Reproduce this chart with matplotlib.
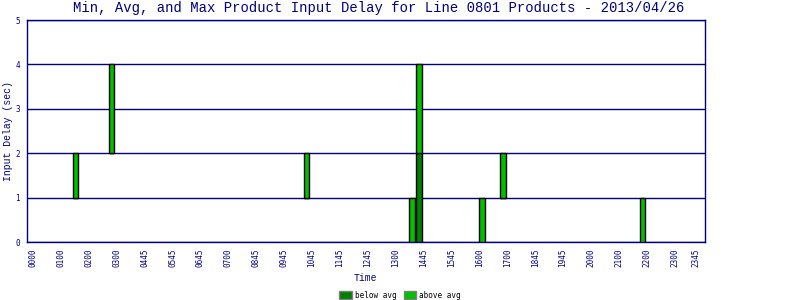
import matplotlib
matplotlib.use("Agg")
import matplotlib.pyplot as plt
from matplotlib.patches import Patch

title = "Min, Avg, and Max Product Input Delay for Line 0801 Products - 2013/04/26"
tick_pos = [0, 1, 2, 3, 4, 5, 6, 7, 8, 9, 10, 11, 12, 13, 14, 15, 16, 17, 18, 19, 20, 21, 22, 23, 23.75]
tick_labels = ["0000", "0100", "0200", "0300", "0445", "0545", "0645", "0700", "0845", "0945",
               "1045", "1145", "1245", "1300", "1445", "1545", "1600", "1700", "1845", "1945",
               "2000", "2100", "2200", "2300", "2345"]

times = [1.53, 2.80, 9.81, 13.58, 13.84, 16.09, 16.85, 21.86]
mins = [1, 2, 1, 0, 0, 0, 1, 0]
avgs = [1, 2, 1, 0, 2, 0, 1, 0]
maxs = [2, 4, 2, 1, 4, 1, 2, 1]

navy = "#000080"
dark_green = "#008000"
light_green = "#00C000"
mono = "DejaVu Sans Mono"
mono_title = "Liberation Mono"

fig = plt.figure(figsize=(8, 3), dpi=100)
ax = fig.add_axes([27/800, 58/300, 678/800, 222/300])

below = [a - m for a, m in zip(avgs, mins)]
above = [x - a for x, a in zip(maxs, avgs)]
w = 0.19
ax.bar(times, below, bottom=mins, width=w, color=dark_green, edgecolor="black", linewidth=1, zorder=3)
ax.bar(times, above, bottom=avgs, width=w, color=light_green, edgecolor="black", linewidth=1, zorder=3)

ax.set_xlim(-0.22, 24.09)
ax.set_ylim(0, 5)
ax.set_yticks([0, 1, 2, 3, 4, 5])
ax.set_yticklabels(["0", "1", "2", "3", "4", "5"], fontsize=5.5, family=mono, color=navy)
ax.set_xticks(tick_pos)
ax.set_xticklabels(tick_labels, rotation=90, fontsize=5.5, family=mono, color=navy)
ax.tick_params(length=0, pad=5)
ax.grid(axis="y", color=navy, linewidth=1, zorder=1)
for s in ax.spines.values():
    s.set_color(navy)
    s.set_linewidth(1)

fig.text(379/800, 1 - 8/300, title, ha="center", va="center", fontsize=10, family=mono_title, color=navy)
fig.text(365/800, 1 - 278/300, "Time", ha="center", va="center", fontsize=7, family=mono_title, color=navy)
fig.text(8/800, 1 - 131/300, "Input Delay (sec)", ha="center", va="center", rotation=90,
         fontsize=7, family=mono_title, color=navy)

handles = [Patch(facecolor=dark_green, edgecolor="gray", label="below avg"),
           Patch(facecolor=light_green, edgecolor="gray", label="above avg")]
fig.legend(handles=handles, loc="center", bbox_to_anchor=(400/800, 1 - 295/300), ncol=2,
           frameon=False, prop={"family": mono, "size": 5.5}, handlelength=1.6, handleheight=1.2,
           handletextpad=0.4, columnspacing=1.0, borderpad=0)

fig.savefig("out.png", dpi=100)
